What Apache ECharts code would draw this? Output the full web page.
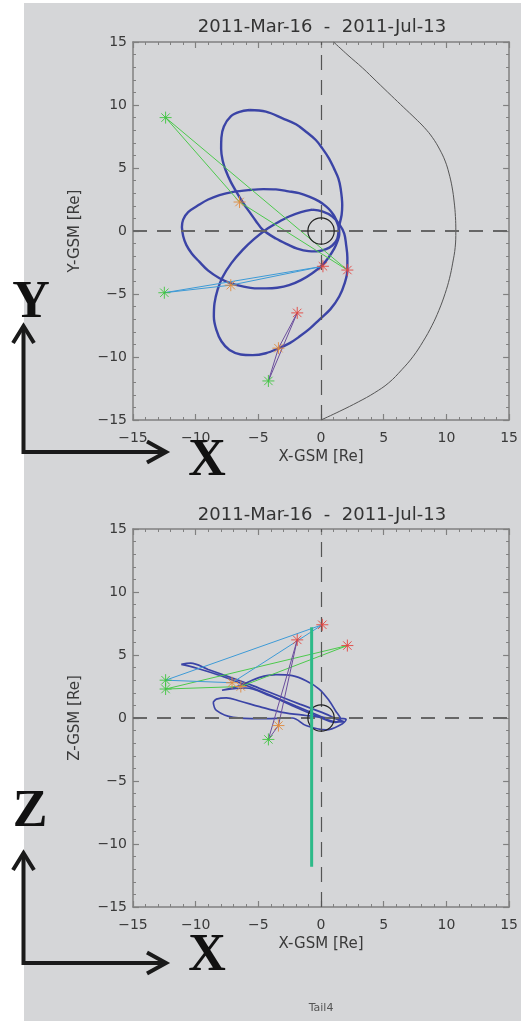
<!DOCTYPE html>
<html><head><meta charset="utf-8">
<script src="https://cdn.jsdelivr.net/npm/echarts@6/dist/echarts.min.js"></script>
<style>
html,body{margin:0;padding:0;background:#fff;}
#bg{position:absolute;left:24px;top:3px;width:497px;height:1018px;background:#d5d6d8;}
#chart{position:absolute;left:0;top:0;width:521px;height:1021px;}
</style></head><body>
<div id="bg"></div><div id="chart"></div>
<script>
// ---------- data ----------
const titleText = '2011-Mar-16  -  2011-Jul-13';
const axisTicks = [-15, -10, -5, 0, 5, 10, 15];

// XY plane orbits (X-GSM, Y-GSM)
const orbitXY_A = [[-5.7,9.6],[-4.4,9.47],[-3.07,8.94],[-2.0,8.47],[-1.2,7.88],[-0.42,7.22],[0.1,6.56],[0.63,5.77],[1.03,4.97],[1.38,4.18],[1.56,3.39],[1.69,2.06],[1.64,1.27],[1.43,0.34],[1.3,-0.6],[0.9,-1.15],[0.35,-1.45],[-0.4,-1.62],[-1.0,-1.6],[-1.9,-1.4],[-2.6,-1.1],[-3.6,-0.6],[-4.65,0.1],[-5.2,0.8],[-5.7,1.5],[-6.2,2.2],[-6.6,2.85],[-7.2,3.9],[-7.6,4.8],[-7.85,5.6],[-7.97,6.5],[-7.95,7.4],[-7.75,8.3],[-7.2,9.1],[-6.5,9.45],[-5.7,9.6]];
const orbitXY_B = [[-11.1,0.3],[-11.0,0.9],[-10.6,1.5],[-9.7,2.1],[-9.0,2.5],[-8.1,2.85],[-7.0,3.1],[-5.7,3.25],[-4.6,3.32],[-3.6,3.3],[-2.6,3.15],[-1.75,3.0],[-0.9,2.7],[-0.15,2.35],[0.4,1.95],[0.8,1.55],[1.1,1.1],[1.3,0.6],[1.45,0.1],[1.45,-0.3],[1.3,-0.85],[1.05,-1.4],[0.6,-2.1],[0.1,-2.7],[-0.7,-3.35],[-1.6,-3.9],[-2.55,-4.3],[-3.5,-4.5],[-4.4,-4.55],[-5.3,-4.55],[-6.25,-4.4],[-7.2,-4.15],[-8.1,-3.75],[-9.0,-3.15],[-9.7,-2.45],[-10.3,-1.8],[-10.75,-1.1],[-11.0,-0.4],[-11.1,0.3]];
const orbitXY_C = [[-0.7,1.7],[0.1,1.55],[0.9,1.15],[1.45,0.55],[1.85,-0.2],[2.0,-1.1],[2.1,-2.1],[2.1,-3.1],[1.9,-4.1],[1.45,-5.2],[0.75,-6.2],[-0.15,-7.05],[-0.9,-7.75],[-1.75,-8.4],[-2.5,-8.9],[-3.35,-9.3],[-4.4,-9.7],[-5.45,-9.85],[-6.4,-9.8],[-7.3,-9.45],[-7.95,-8.75],[-8.35,-7.85],[-8.55,-6.8],[-8.5,-5.75],[-8.25,-4.65],[-7.85,-3.65],[-7.15,-2.55],[-6.25,-1.5],[-5.35,-0.65],[-4.4,0.1],[-3.5,0.65],[-2.55,1.15],[-1.6,1.5],[-0.7,1.7]];
const boundaryXY = [[1.0,15],[2.15,13.95],[3.3,12.95],[4.45,11.85],[5.6,10.75],[6.6,9.8],[7.5,8.95],[8.25,8.2],[8.9,7.4],[9.45,6.5],[9.9,5.55],[10.2,4.6],[10.45,3.5],[10.62,2.3],[10.72,1.15],[10.75,0],[10.7,-1.3],[10.5,-2.55],[10.25,-3.75],[9.9,-4.95],[9.4,-6.3],[8.85,-7.5],[8.15,-8.75],[7.35,-9.95],[6.45,-11.0],[5.4,-12.05],[4.25,-12.85],[3.0,-13.55],[1.5,-14.3],[0,-15]];
const greenXY = [[-12.4,9.0],[-12.5,-4.9],[-4.2,-11.9]];
const orangeXY = [[-6.5,2.3],[-7.2,-4.3],[-3.4,-9.3]];
const redXY = [[2.1,-3.1],[0.15,-2.8],[-1.9,-6.5]];

// XZ plane orbits (X-GSM, Z-GSM)
const orbitXZ_A = [[-11.15,4.25],[-10.4,4.35],[-9.0,3.85],[-7.3,3.25],[-5.4,2.55],[-3.5,1.8],[-1.7,1.1],[0.3,0.35],[1.4,-0.15],[1.85,-0.3],[1.2,-0.3],[-0.2,0.2],[-2.0,0.95],[-3.9,1.75],[-6.0,2.6],[-8.0,3.35],[-9.9,3.95],[-11.15,4.25]];
const orbitXZ_B = [[-7.9,2.2],[-6.5,2.56],[-4.9,3.22],[-3.6,3.44],[-2.3,3.36],[-1.2,2.96],[-0.15,2.3],[0.65,1.37],[1.15,0.58],[1.55,-0.08],[1.15,-0.35],[-0.4,0.18],[-2.3,0.98],[-4.1,1.77],[-6.0,2.38],[-7.9,2.2]];
const orbitXZ_C = [[-8.6,1.25],[-8.35,1.5],[-7.55,1.6],[-6.5,1.35],[-4.9,0.9],[-3.1,0.45],[-1.2,0.2],[0.6,0.0],[1.8,-0.05],[2.0,-0.1],[1.45,-0.6],[0.4,-0.95],[-1.2,-0.6],[-2.3,0.0],[-4.9,-0.05],[-7.0,0.05],[-8.35,0.6],[-8.6,1.25]];
const greenXZ = [[-12.4,2.3],[-12.4,3.0],[-4.2,-1.7]];
const orangeXZ = [[-6.4,2.5],[-7.1,2.8],[-3.4,-0.6]];
const redXZ = [[2.1,5.75],[0.1,7.4],[-1.9,6.2]];
const greenBarXZ = [[-0.75,7.2],[-0.75,-11.8]];

const earth = [[0, 0, 1.05]];
const linkColors = ['#4cc94c', '#3d9ad6', '#6a4d9c'];

// ---------- chart ----------
const FONT = 'DejaVu Sans';
const AX = '#808080';
const chart = echarts.init(document.getElementById('chart'));

function axis(kind, gridIndex, position, showLabel, name) {
  const a = {
    type: 'value', gridIndex, position, min: axisTicks[0], max: axisTicks[axisTicks.length-1], interval: 5,
    axisLine: {show: true, onZero: false, lineStyle: {color: AX, width: 1.5}},
    axisTick: {show: true, inside: true, length: 6, lineStyle: {color: AX, width: 1.2}},
    minorTick: {show: true, splitNumber: 5, length: 3, lineStyle: {color: AX, width: 1}},
    splitLine: {show: false}, minorSplitLine: {show: false},
    axisLabel: {show: showLabel, color: '#3a3a3a', fontSize: 14, fontFamily: FONT,
      margin: kind === 'x' ? 11 : 6, formatter: v => String(v).replace('-', '\u2212')}
  };
  if (name) {
    a.name = name; a.nameLocation = 'middle';
    a.nameGap = kind === 'x' ? 30 : 50;
    a.nameTextStyle = {fontSize: 15, color: '#3a3a3a', fontFamily: FONT};
    if (kind === 'y') a.nameRotate = 90;
  }
  return a;
}

function orbit(data, xi, yi, w) {
  return {type: 'line', xAxisIndex: xi, yAxisIndex: yi, data, showSymbol: false, smooth: 0.35,
    lineStyle: {color: '#3b44a6', width: w}, silent: true, z: 3};
}
function link(g, o, r, color, xi, yi) {
  return {type: 'line', xAxisIndex: xi, yAxisIndex: yi, data: [g, o, r, g], showSymbol: false,
    lineStyle: {color, width: 1}, silent: true, z: 4};
}
const starPath = 'path://M10,0L10,20M0,10L20,10M3,3L17,17M3,17L17,3';
function stars(data, color, xi, yi) {
  return {type: 'scatter', xAxisIndex: xi, yAxisIndex: yi, data, symbol: starPath, symbolSize: 12,
    itemStyle: {color: color, borderColor: color, borderWidth: 1, opacity: 0.9}, silent: true, z: 6};
}
function earthSeries(xi, yi) {
  return {type: 'custom', xAxisIndex: xi, yAxisIndex: yi, data: earth, silent: true, z: 5,
    renderItem: (p, api) => {
      const c = api.coord([api.value(0), api.value(1)]);
      const s = api.size([api.value(2), api.value(2)]);
      return {type: 'circle', shape: {cx: c[0], cy: c[1], r: s[0]},
        style: {fill: 'none', stroke: '#222', lineWidth: 1.2}};
    }};
}
function zeroLines() {
  return {silent: true, symbol: 'none', label: {show: false},
    data: [
      {yAxis: 0, lineStyle: {color: '#666', width: 2, type: [14, 10]}},
      {xAxis: 0, lineStyle: {color: '#555', width: 1.2, type: [15, 10]}}
    ]};
}

const series = [];
// panel 1 (XY)
const sA = orbit(orbitXY_A, 0, 0, 2.4); sA.markLine = zeroLines(); series.push(sA);
series.push(orbit(orbitXY_B, 0, 0, 2.4));
series.push(orbit(orbitXY_C, 0, 0, 2.4));
series.push({type: 'line', xAxisIndex: 0, yAxisIndex: 0, data: boundaryXY, showSymbol: false, smooth: 0.4,
  lineStyle: {color: '#555', width: 1}, silent: true, z: 2});
for (let i = 0; i < 3; i++) series.push(link(greenXY[i], orangeXY[i], redXY[i], linkColors[i], 0, 0));
series.push(stars(greenXY, '#3fc43f', 0, 0));
series.push(stars(orangeXY, '#e08a3c', 0, 0));
series.push(stars(redXY, '#e2453f', 0, 0));
series.push(earthSeries(0, 0));
// panel 2 (XZ)
const sB = orbit(orbitXZ_A, 2, 2, 1.7); sB.markLine = zeroLines(); series.push(sB);
series.push(orbit(orbitXZ_B, 2, 2, 1.7));
series.push(orbit(orbitXZ_C, 2, 2, 1.7));
for (let i = 0; i < 3; i++) series.push(link(greenXZ[i], orangeXZ[i], redXZ[i], linkColors[i], 2, 2));
series.push(stars(greenXZ, '#3fc43f', 2, 2));
series.push(stars(orangeXZ, '#e08a3c', 2, 2));
series.push(stars(redXZ, '#e2453f', 2, 2));
series.push(earthSeries(2, 2));
series.push({type: 'line', xAxisIndex: 2, yAxisIndex: 2, data: greenBarXZ, showSymbol: false,
  lineStyle: {color: '#2dba88', width: 3}, silent: true, z: 7});

function txt(x, y, text, size, family, weight, fill) {
  return {type: 'text', x, y, z: 100, silent: true,
    style: {text, fontSize: size, fontFamily: family, fontWeight: weight, fill,
      align: 'center', verticalAlign: 'middle', textAlign: 'center', textVerticalAlign: 'middle'}};
}
function pl(points) {
  return {type: 'polyline', z: 100, silent: true, shape: {points},
    style: {stroke: '#1a1a1a', lineWidth: 4, fill: 'none', lineJoin: 'miter'}};
}

chart.setOption({
  animation: false,
  grid: [
    {left: 133, top: 42, width: 378, height: 378},
    {left: 133, top: 529, width: 378, height: 378}
  ],
  xAxis: [
    axis('x', 0, 'bottom', true, 'X-GSM [Re]'), axis('x', 0, 'top', false),
    axis('x', 1, 'bottom', true, 'X-GSM [Re]'), axis('x', 1, 'top', false)
  ],
  yAxis: [
    axis('y', 0, 'left', true, 'Y-GSM [Re]'), axis('y', 0, 'right', false),
    axis('y', 1, 'left', true, 'Z-GSM [Re]'), axis('y', 1, 'right', false)
  ],
  series,
  graphic: [
    txt(322, 27, titleText, 18, FONT, 'normal', '#333'),
    txt(322, 515, titleText, 18, FONT, 'normal', '#333'),
    txt(321, 1008, 'Tail4', 11, FONT, 'normal', '#555'),
    txt(31, 304, 'Y', 52, 'Liberation Serif', 'bold', '#111'),
    txt(207, 462, 'X', 52, 'Liberation Serif', 'bold', '#111'),
    txt(30, 813, 'Z', 52, 'Liberation Serif', 'bold', '#111'),
    txt(207, 957, 'X', 52, 'Liberation Serif', 'bold', '#111'),
    pl([[23.5, 327], [23.5, 452], [165, 452]]),
    pl([[13, 343], [23.5, 326], [34, 343]]),
    pl([[147, 441.5], [166, 452], [147, 462.5]]),
    pl([[23.5, 854], [23.5, 963], [165, 963]]),
    pl([[13, 870], [23.5, 853], [34, 870]]),
    pl([[147, 952.5], [166, 963], [147, 973.5]])
  ]
});
</script>
</body></html>
